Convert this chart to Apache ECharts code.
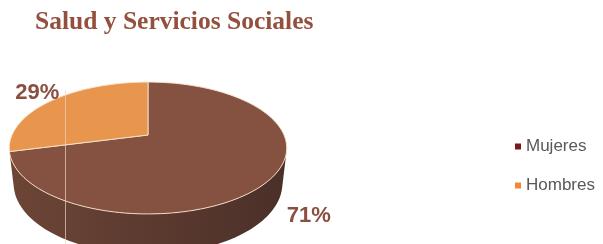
<!DOCTYPE html>
<html>
<head>
<meta charset="utf-8">
<script src="https://cdn.jsdelivr.net/npm/echarts@6/dist/echarts.min.js"></script>
<style>
  html, body { margin: 0; padding: 0; background: #fff; }
  #chart { width: 603px; height: 244px; }
</style>
</head>
<body>
<div id="chart"></div>
<script>
  const title = 'Salud y Servicios Sociales'
  const categories = ['Mujeres', 'Hombres']
  const values = [71, 29]
  const legendColors = ['#7b1a1a', '#f0873a']
  const topColors = ['#855140', '#e8954d']
  const sideColors = [['#6d4537', '#5c3a2f', '#4a3029'], ['#b0692c', '#b8702f', '#b0692c']]

  // perspective of the 3D pie
  const cx = 148, cy = 135, B = 136
  const sa = 0.466, ca = 0.885, Dp = 4.49, H = 0.3
  const total = values.reduce((a, b) => a + b, 0)
  // the part of the side wall that faces the viewer
  const edge = Math.asin(1 / (Dp * ca)) * 180 / Math.PI

  function project(X, Y, Z) {
    const den = 1 - (Y * sa + Z * ca) / Dp
    return [cx + B * X / den, cy + B * (Z * sa - Y * ca) / den]
  }

  function arc(a0, a1, Y, r) {
    const pts = []
    const n = Math.max(2, Math.ceil(Math.abs(a1 - a0) / 2))
    for (let i = 0; i <= n; i++) {
      const t = (a0 + (a1 - a0) * i / n) * Math.PI / 180
      pts.push(project(r * Math.cos(t), Y, r * Math.sin(t)))
    }
    return pts
  }

  function renderSlice(params, api) {
    const idx = params.seriesIndex
    let before = 0
    for (let i = 0; i < idx; i++) before += values[i]
    const v = api.value(0)
    const a0 = -90 + 360 * before / total
    const a1 = -90 + 360 * (before + v) / total
    const children = []

    // side wall, lighter on the left
    const s0 = Math.max(a0, edge), s1 = Math.min(a1, 180 - edge)
    if (s1 > s0) {
      const top = arc(s0, s1, 0, 1)
      const bottom = arc(s1, s0, -H, 1)
      const c = sideColors[idx]
      children.push({
        type: 'polygon',
        shape: {points: top.concat(bottom)},
        style: {
          fill: new echarts.graphic.LinearGradient(0, 0, 1, 0, [
            {offset: 0, color: c[0]}, {offset: 0.5, color: c[1]}, {offset: 1, color: c[2]}
          ])
        }
      })
    }

    // top face
    children.push({
      type: 'polygon',
      shape: {points: [project(0, 0, 0)].concat(arc(a0, a1, 0, 1))},
      style: {fill: topColors[idx], stroke: 'rgba(250,228,205,0.9)', lineWidth: 1}
    })

    // percentage label
    const mid = (a0 + a1) / 2 * Math.PI / 180
    const near = Math.sin(mid) > 0
    const p = project(1.25 * Math.cos(mid), near ? -H * 0.6 : 0, 1.25 * Math.sin(mid))
    children.push({
      type: 'text',
      z2: 10,
      style: {
        text: Math.round(v / total * 100) + '%',
        x: p[0] + 6, y: p[1],
        align: 'center', verticalAlign: 'middle',
        fill: '#8b4f3f',
        fontSize: 22, fontWeight: 'bold', fontFamily: 'Liberation Sans'
      }
    })
    return {type: 'group', children: children}
  }

  const chart = echarts.init(document.getElementById('chart'))
  chart.setOption({
    animation: false,
    title: {
      text: title,
      left: 30,
      top: 4,
      textStyle: {
        fontFamily: 'Liberation Serif',
        fontWeight: 'bold',
        fontSize: 25.5,
        color: '#94503f'
      }
    },
    legend: {
      orient: 'vertical',
      left: 510,
      top: 133,
      itemGap: 22,
      icon: 'rect',
      itemWidth: 6,
      itemHeight: 6,
      textStyle: {fontFamily: 'Liberation Sans', fontSize: 17, color: '#595959'},
      data: categories.map((name, i) => ({name: name, itemStyle: {color: legendColors[i]}}))
    },
    graphic: [{
      type: 'line',
      z: 100,
      shape: {x1: 65.5, y1: 90, x2: 65.5, y2: 244},
      style: {stroke: 'rgba(238,210,190,0.7)', lineWidth: 1}
    }],
    series: categories.map((name, i) => ({
      type: 'custom',
      name: name,
      coordinateSystem: 'none',
      itemStyle: {color: legendColors[i]},
      renderItem: renderSlice,
      data: [[values[i]]]
    }))
  })
</script>
</body>
</html>
